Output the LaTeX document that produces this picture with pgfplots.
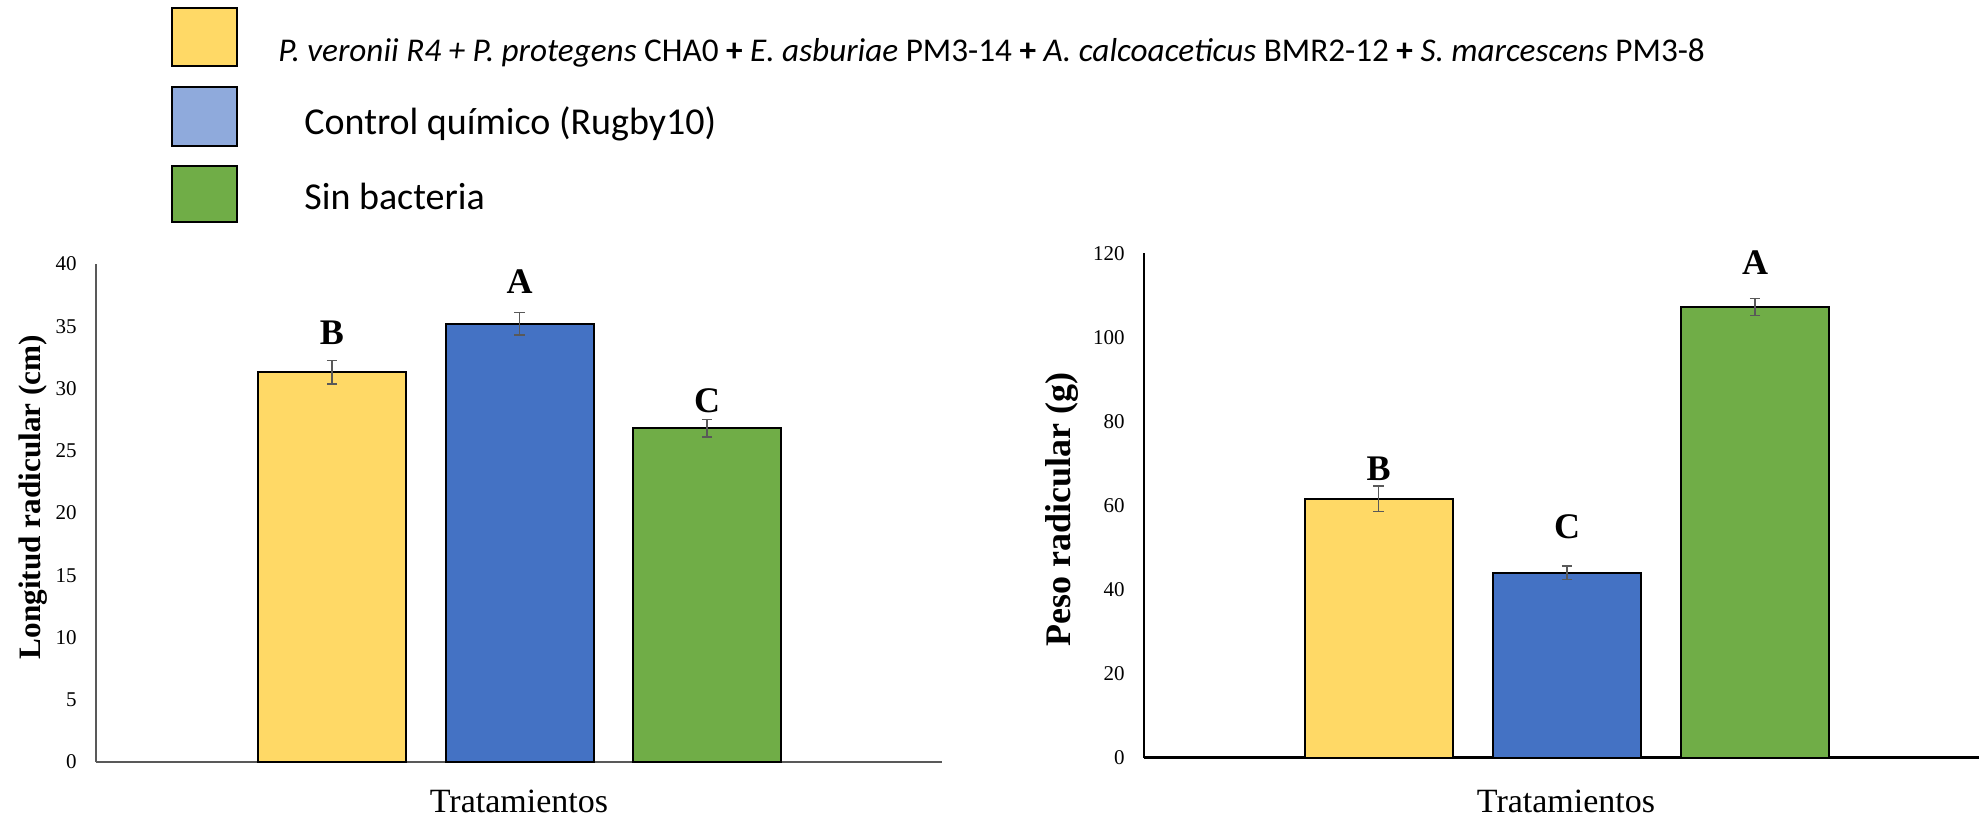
\documentclass[border=0pt]{standalone}
\usepackage{fontspec}
\setmainfont{Liberation Serif}
\newfontfamily\calibri{Carlito}
\usepackage{pgfplots}
\pgfplotsset{compat=1.18}

\definecolor{barYellow}{HTML}{FFD966}
\definecolor{barBlue}{HTML}{4472C4}
\definecolor{keyBlue}{HTML}{8FAADC}
\definecolor{barGreen}{HTML}{70AD47}
\definecolor{axisGray}{HTML}{595959}

\tikzset{letter/.style={font=\bfseries\fontsize{18}{18}\selectfont}}

\pgfplotsset{
  rootbars/.style={
    scale only axis,
    axis x line=bottom, axis y line=left,
    axis line style={-},
    xtick=\empty,
    major tick length=0pt,
    ymin=0,
    /pgf/number format/assume math mode=true,
    tick label style={font=\fontsize{10.5}{12}\selectfont},
    yticklabel style={inner sep=0pt, xshift=-9.5pt},
    xlabel style={font=\fontsize{17}{20}\selectfont, anchor=base},
    every axis y label/.style={rotate=90, anchor=center},
    clip=false,
  },
  bar/.style={ybar, bar shift=0pt, bar width=148, draw=black, line width=1pt,
    /pgfplots/error bars/y dir=both,
    /pgfplots/error bars/y explicit,
    /pgfplots/error bars/error bar style={axisGray, line width=0.8pt},
    /pgfplots/error bars/error mark options={rotate=90, mark size=2.6pt, axisGray, line width=0.8pt}},
}

\begin{document}
\begin{tikzpicture}
\useasboundingbox (0,0) rectangle (989.5pt,409.5pt);

% key
\draw[black, line width=1.2pt, fill=barYellow] (86pt,376.5pt) rectangle (118.5pt,405.5pt);
\draw[black, line width=1.2pt, fill=keyBlue]   (86pt,336.5pt) rectangle (118.5pt,366pt);
\draw[black, line width=1.2pt, fill=barGreen]  (86pt,298.5pt) rectangle (118.5pt,326.5pt);
\begin{scope}[every node/.style={anchor=base west, inner sep=0pt, font=\calibri\fontsize{19}{19}\selectfont}]
\node[font=\calibri\fontsize{16.6}{18}\selectfont] at (139pt,378.5pt) {\textit{P. veronii R4 + P. protegens} CHA0 \textbf{+} \textit{E. asburiae} PM3-14 \textbf{+} \textit{A. calcoaceticus} BMR2-12 \textbf{+} \textit{S. marcescens} PM3-8};
\node at (152pt,342.25pt) {Control químico (Rugby10)};
\node at (152pt,304.5pt) {Sin bacteria};
\end{scope}

% root length
\begin{axis}[rootbars,
  at={(48pt,28.5pt)}, anchor=south west,
  width=423pt, height=249pt,
  xmin=0, xmax=846, ymax=40,
  ytick={0,5,...,40},
  axis line style={axisGray, line width=1pt},
  ylabel={Longitud radicular (cm)},
  xlabel={Tratamientos},
  ylabel style={at={(axis description cs:-0.0739,0.532)},
    font=\bfseries\fontsize{15.6}{18}\selectfont},
  xlabel style={at={(axis description cs:0.5,-0.1004)}},
]
\addplot[bar, fill=barYellow] coordinates {(236,31.3) +- (0,0.95)};
\addplot[bar, fill=barBlue]   coordinates {(423.5,35.2) +- (0,0.9)};
\addplot[bar, fill=barGreen]  coordinates {(611,26.8) +- (0,0.7)};
\node[letter] at (axis cs:236,34.5) {B};
\node[letter] at (axis cs:423.5,38.6) {A};
\node[letter] at (axis cs:611,29.0) {C};
\end{axis}

% root weight
\begin{axis}[rootbars,
  at={(572pt,30.65pt)}, anchor=south west,
  width=417.5pt, height=252.2pt,
  xmin=0, xmax=835, ymax=120,
  ytick={0,20,...,120},
  axis line style={black, line width=1.3pt},
  ylabel={Peso radicular (g)},
  xlabel={Tratamientos},
  ylabel style={at={(axis description cs:-0.0988,0.493)},
    font=\bfseries\fontsize{18}{20}\selectfont},
  xlabel style={at={(axis description cs:0.5054,-0.1077)}},
]
\addplot[bar, fill=barYellow] coordinates {(234.5,61.6) +- (0,3.0)};
\addplot[bar, fill=barBlue]   coordinates {(423,44.0) +- (0,1.6)};
\addplot[bar, fill=barGreen]  coordinates {(611,107.2) +- (0,2.0)};
\node[letter] at (axis cs:234.5,68.8) {B};
\node[letter] at (axis cs:423,55.0) {C};
\node[letter] at (axis cs:611,117.7) {A};
\end{axis}
\end{tikzpicture}
\end{document}
